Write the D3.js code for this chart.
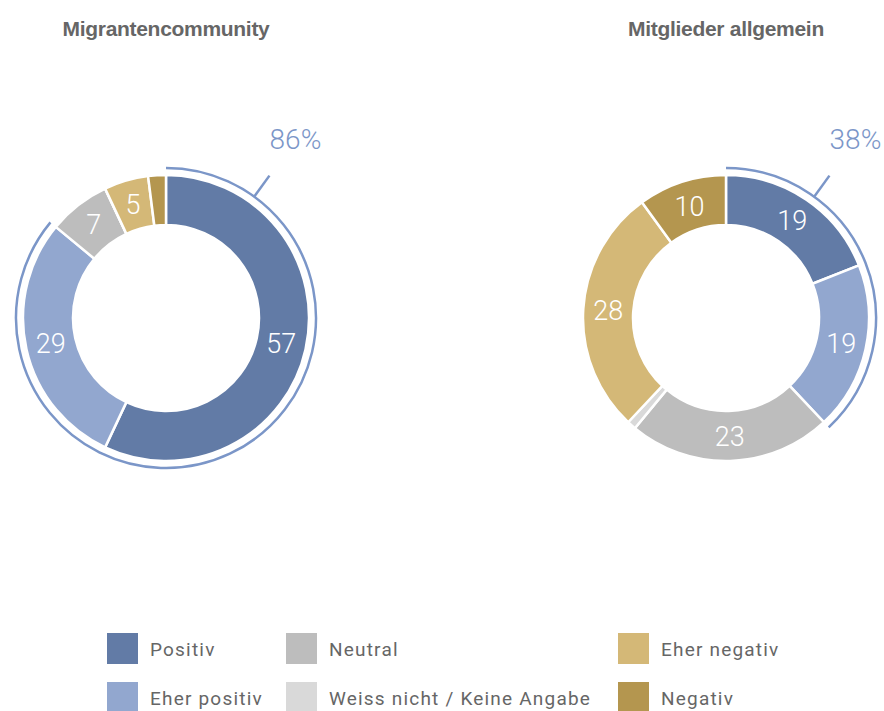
<!DOCTYPE html>
<html>
<head>
<meta charset="utf-8">
<script src="https://cdn.jsdelivr.net/npm/d3@7"></script>
<style>
  body { margin: 0; background: #fff; }
  text { font-family: Roboto, "Liberation Sans", sans-serif; }
</style>
</head>
<body>
<div id="chart"></div>
<script>
// data
var categories = ["Positiv", "Eher positiv", "Neutral", "Weiss nicht / Keine Angabe", "Eher negativ", "Negativ"],
    colors = ["#627ba6", "#92a7cf", "#bdbdbd", "#d9d9d9", "#d4b877", "#b4964f"],
    titles = ["Migrantencommunity", "Mitglieder allgemein"],
    migrantValues = [57, 29, 7, 0, 5, 2],
    memberValues = [19, 19, 23, 1, 28, 10],
    positiveShare = ["86%", "38%"];

var width = 884, height = 711,
    centers = [[166, 318], [726, 318]],
    rOuter = 143, rInner = 93, rRing = 150,
    tickAngle = 36 * Math.PI / 180;

var svg = d3.select("#chart").append("svg")
    .attr("width", width)
    .attr("height", height);

var pie = d3.pie().sort(null).value(function(d) { return d; });
var arc = d3.arc().innerRadius(rInner).outerRadius(rOuter);
var labelArc = d3.arc().innerRadius((rInner + rOuter) / 2).outerRadius((rInner + rOuter) / 2);

[migrantValues, memberValues].forEach(function(values, k) {
    var g = svg.append("g")
        .attr("transform", "translate(" + centers[k][0] + "," + centers[k][1] + ")");

    svg.append("text")
        .attr("x", centers[k][0])
        .attr("y", 36)
        .attr("text-anchor", "middle")
        .style("font-family", "'Liberation Sans', Arial, sans-serif")
        .style("font-size", "21px")
        .style("font-weight", "bold")
        .style("letter-spacing", "-0.3px")
        .style("fill", "#666")
        .text(titles[k]);

    var slices = pie(values);

    g.selectAll(".slice")
        .data(slices)
        .enter().append("path")
            .attr("class", "slice")
            .attr("d", arc)
            .style("fill", function(d, i) { return colors[i]; })
            .style("stroke", "#fff")
            .style("stroke-width", 2.5);

    g.selectAll(".val")
        .data(slices.filter(function(d) { return d.data >= 5; }))
        .enter().append("text")
            .attr("class", "val")
            .attr("transform", function(d) { return "translate(" + labelArc.centroid(d) + ")"; })
            .attr("dy", "0.36em")
            .attr("text-anchor", "middle")
            .style("font-size", "27px")
            .style("font-weight", 300)
            .style("fill", "#fff")
            .text(function(d) { return d.data; });

    // outline around positive share
    var posEnd = slices[1].endAngle;
    g.append("path")
        .attr("d", d3.arc().innerRadius(rRing).outerRadius(rRing).startAngle(0).endAngle(posEnd)())
        .style("fill", "none")
        .style("stroke", "#7b96c8")
        .style("stroke-width", 2.5);

    var x1 = Math.sin(tickAngle) * rRing, y1 = -Math.cos(tickAngle) * rRing,
        x2 = Math.sin(tickAngle) * 176, y2 = -Math.cos(tickAngle) * 176;
    g.append("line")
        .attr("x1", x1).attr("y1", y1)
        .attr("x2", x2).attr("y2", y2)
        .style("stroke", "#7b96c8")
        .style("stroke-width", 2.5);

    g.append("text")
        .attr("x", x2 + 26)
        .attr("y", y2 - 27)
        .attr("text-anchor", "middle")
        .style("font-size", "28px")
        .style("font-weight", 300)
        .style("fill", "#7b96c8")
        .text(positiveShare[k]);
});

// legend
var legendCols = [107, 286, 618],
    legendRows = [633, 682],
    legendPos = [[0, 0], [0, 1], [1, 0], [1, 1], [2, 0], [2, 1]];

var legend = svg.selectAll(".legend")
    .data(categories)
    .enter().append("g")
        .attr("class", "legend")
        .attr("transform", function(d, i) {
            return "translate(" + legendCols[legendPos[i][0]] + "," + legendRows[legendPos[i][1]] + ")";
        });

legend.append("rect")
    .attr("width", 31)
    .attr("height", 31)
    .style("fill", function(d, i) { return colors[i]; });

legend.append("text")
    .attr("x", 43)
    .attr("y", 16)
    .attr("dy", "0.35em")
    .style("font-size", "19px")
    .style("letter-spacing", "1.2px")
    .style("fill", "#666")
    .text(function(d) { return d; });
</script>
</body>
</html>
